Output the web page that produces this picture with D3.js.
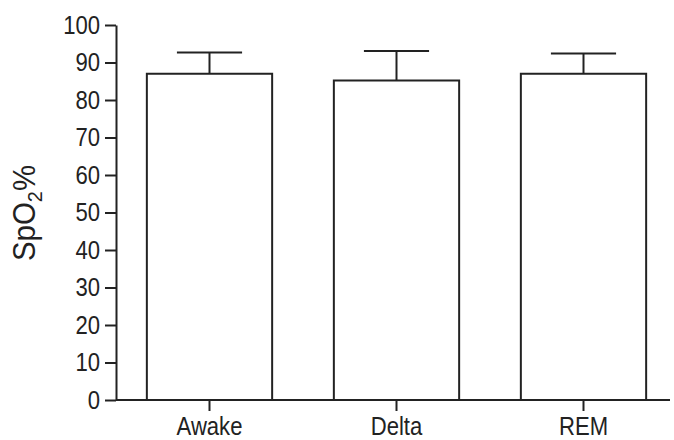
<!DOCTYPE html>
<html>
<head>
<meta charset="utf-8">
<script src="https://cdn.jsdelivr.net/npm/d3@7/dist/d3.min.js"></script>
<style>
  html, body { margin: 0; padding: 0; background: #fff; }
  svg text { font-family: "Liberation Sans", Arial, sans-serif; fill: #222; }
</style>
</head>
<body>
<svg id="chart" width="674" height="440"></svg>
<script>
// Mean SpO2 by sleep stage, with upper SD whiskers
const stages = ["Awake", "Delta", "REM"];
const means = [87, 85.2, 87];
const errorTops = [92.7, 93.1, 92.4];
const yTicks = [0, 10, 20, 30, 40, 50, 60, 70, 80, 90, 100];

const svg = d3.select("#chart");
const ink = "#222";
const narrow = 0.85; // horizontal squeeze for a condensed look

const x = d3.scaleBand()
  .domain(stages)
  .range([116, 677])
  .paddingInner(0.33)
  .paddingOuter(0.165);

const y = d3.scaleLinear().domain([0, 100]).range([400, 25]);

// Bars
svg.append("g").selectAll("rect")
  .data(stages)
  .join("rect")
  .attr("x", d => x(d))
  .attr("y", (d, i) => y(means[i]))
  .attr("width", x.bandwidth())
  .attr("height", (d, i) => y(0) - y(means[i]))
  .attr("fill", "#fff")
  .attr("stroke", ink)
  .attr("stroke-width", 2);

// Error whiskers (upper only)
const err = svg.append("g").attr("stroke", ink).attr("stroke-width", 2);
stages.forEach((s, i) => {
  const cx = x(s) + x.bandwidth() / 2;
  const cap = x.bandwidth() * 0.26;
  err.append("line").attr("x1", cx).attr("x2", cx)
    .attr("y1", y(means[i])).attr("y2", y(errorTops[i]));
  err.append("line").attr("x1", cx - cap).attr("x2", cx + cap)
    .attr("y1", y(errorTops[i])).attr("y2", y(errorTops[i]));
});

// Y axis
const yAxis = svg.append("g")
  .attr("transform", "translate(116,0)")
  .call(d3.axisLeft(y).tickValues(yTicks).tickSize(11).tickPadding(5).tickSizeOuter(0));
yAxis.selectAll("text")
  .attr("font-size", 26)
  .attr("fill", ink)
  .attr("x", -16 / narrow)
  .attr("transform", `scale(${narrow},1)`);

// X axis
const xAxis = svg.append("g")
  .attr("transform", "translate(0,400)")
  .call(d3.axisBottom(x).tickSize(11).tickPadding(6).tickSizeOuter(0));
xAxis.select(".domain").attr("d", "M116,0H670");
xAxis.selectAll("text")
  .attr("font-size", 26)
  .attr("fill", ink)
  .attr("transform", `scale(${narrow},1)`);

[yAxis, xAxis].forEach(g => {
  g.select(".domain").attr("stroke", ink).attr("stroke-width", 2);
  g.selectAll(".tick line").attr("stroke", ink).attr("stroke-width", 2);
  g.attr("font-family", null);
});

// Y axis title with subscript
const title = svg.append("text")
  .attr("transform", "translate(35,213) rotate(-90) scale(0.95,1)")
  .attr("text-anchor", "middle")
  .attr("font-size", 31);
title.append("tspan").text("SpO");
title.append("tspan").attr("font-size", 21).attr("dy", 7).text("2");
title.append("tspan").attr("dy", -7).text("%");
</script>
</body>
</html>
